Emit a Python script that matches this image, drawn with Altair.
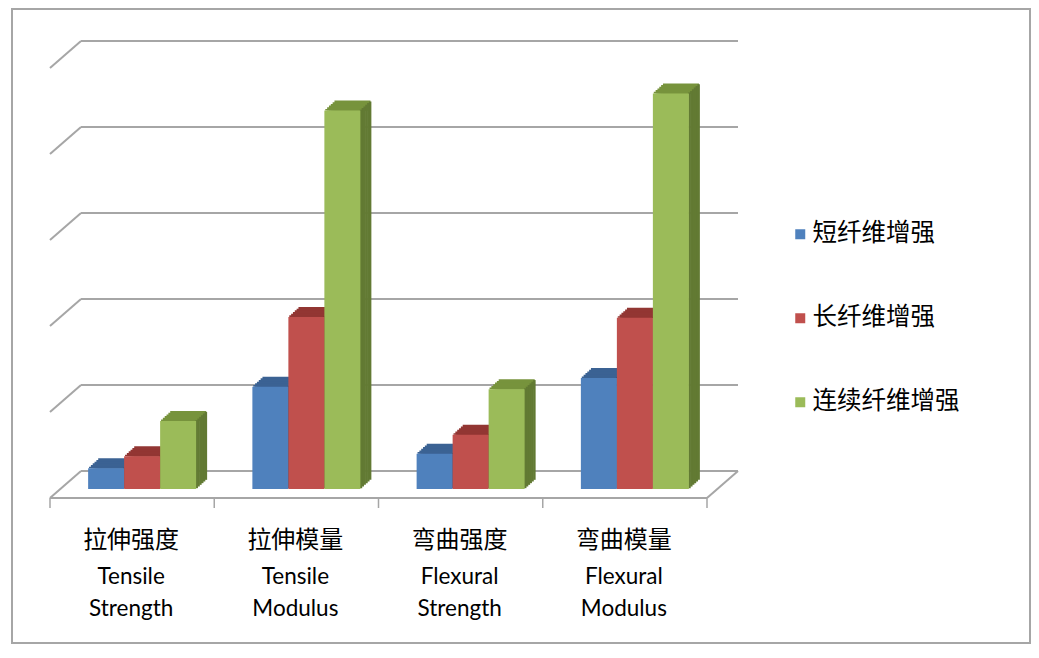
import altair as alt
import pandas as pd

# ---------------- data ----------------
categories_cn = ["拉伸强度", "拉伸模量", "弯曲强度", "弯曲模量"]
categories_en = ["Tensile\nStrength", "Tensile\nModulus", "Flexural\nStrength", "Flexural\nModulus"]
series_names = ["短纤维增强", "长纤维增强", "连续纤维增强"]
short_fiber = [0.24, 1.19, 0.41, 1.29]
long_fiber = [0.38, 2.00, 0.63, 1.99]
cont_fiber = [0.79, 4.40, 1.16, 4.60]
grid_values = [0, 1, 2, 3, 4, 5]

# ---------------- styles ----------------
front_colors = ["#4F81BD", "#C0504D", "#9BBB59"]
top_colors = ["#3B6293", "#923633", "#77933C"]
side_colors = ["#2E4C73", "#7A2B29", "#627A33"]
GRID = "#A6A6A6"
CJK = "Noto Sans CJK SC"
LATIN = "Lato"

rows = []
for i, c in enumerate(categories_cn):
    for s, vals in zip(series_names, [short_fiber, long_fiber, cont_fiber]):
        rows.append({"cat": c, "series": s, "value": vals[i]})
bars = pd.DataFrame(rows)
grid_df = pd.DataFrame({"v": grid_values})
labels_df = pd.DataFrame({"cat": categories_cn, "en": categories_en})
one = pd.DataFrame({"v": [0]})

W, H = 657, 430
band = W / len(categories_cn)
bw = 36.0                     # bar front width (px)
DX, DY = 11.0, 10.0           # 3-D depth of bars
N = 6
sx, sy = DX / N, DY / N

x_scale = alt.Scale(domain=categories_cn, paddingInner=0, paddingOuter=0)
x_enc = alt.X("cat:N", scale=x_scale, axis=None)
y_scale = alt.Scale(domain=[0, 5], nice=False, zero=True)
y_val = alt.Y("value:Q", scale=y_scale, axis=None)
y_v = alt.Y("v:Q", scale=y_scale, axis=None)

layers = []

# outer frame
layers.append(alt.Chart(one).mark_rect(fill="white", fillOpacity=0, stroke="#A6A6A6", strokeWidth=2).encode(
    x=alt.value(-48), x2=alt.value(970), y=alt.value(-50), y2=alt.value(584)))

back_off = -18
front_off = 9
# back wall gridlines
layers.append(alt.Chart(grid_df).mark_rule(color=GRID, strokeWidth=2, yOffset=back_off).encode(
    x=alt.value(21), x2=alt.value(21 + W), y=y_v))
# side wall slants
layers.append(alt.Chart(grid_df).mark_rule(color=GRID, strokeWidth=2, yOffset=front_off, y2Offset=back_off).encode(
    x=alt.value(-10), x2=alt.value(21), y=y_v, y2="v:Q"))
# floor front edge and right slant
layers.append(alt.Chart(one).mark_rule(color=GRID, strokeWidth=2, yOffset=front_off).encode(
    x=alt.value(-10), x2=alt.value(W - 10), y=y_v))
layers.append(alt.Chart(one).mark_rule(color=GRID, strokeWidth=2, yOffset=front_off, y2Offset=back_off).encode(
    x=alt.value(W - 10), x2=alt.value(W + 21), y=y_v, y2="v:Q"))
# category ticks
layers.append(alt.Chart(labels_df).mark_rule(color=GRID, strokeWidth=1.5, xOffset=-10).encode(
    x=alt.X("cat:N", scale=x_scale, axis=None, bandPosition=0),
    y=alt.value(H + front_off), y2=alt.value(H + front_off + 10)))
layers.append(alt.Chart(one).mark_rule(color=GRID, strokeWidth=1.5).encode(
    x=alt.value(W - 10), y=alt.value(H + front_off), y2=alt.value(H + front_off + 10)))

legend = alt.Legend(orient="none", legendX=728, legendY=163, title=None,
                    symbolType="square", symbolSize=100, symbolStrokeWidth=0,
                    labelFont=CJK, labelFontSize=24.5, labelColor="#000000",
                    rowPadding=59, labelOffset=0, padding=0)
color_enc = alt.Color("series:N", scale=alt.Scale(domain=series_names, range=front_colors), legend=legend)

# 3-D bars, one series at a time (top faces, side faces, then front faces)
fronts = []
for si, s in enumerate(series_names):
    shift = (si - (len(series_names) - 1) / 2) * bw
    base = alt.Chart(bars).transform_filter(alt.datum.series == s).transform_calculate(zero="0")
    for k in reversed(range(N)):
        layers.append(base.mark_bar(width=bw, xOffset=shift + (k + 0.5) * sx, color=top_colors[si],
                                    yOffset=-(k + 1) * sy, y2Offset=0).encode(
            x=x_enc, y=y_val, y2=alt.Y2("value:Q")))
    for k in reversed(range(N)):
        layers.append(base.mark_bar(width=sx + 0.6, xOffset=shift + bw / 2 + (k + 0.5) * sx - 0.3,
                                    color=side_colors[si],
                                    yOffset=-(k + 0.5) * sy, y2Offset=-(k + 0.5) * sy).encode(
            x=x_enc, y=y_val, y2=alt.Y2("zero:Q")))
    fronts.append(base.mark_bar(width=bw, xOffset=shift).encode(
        x=x_enc, y=y_val, y2=alt.Y2("zero:Q"), color=color_enc))
layers.extend(fronts)

# category labels
layers.append(alt.Chart(labels_df).mark_text(font=CJK, fontSize=24, xOffset=-11, baseline="middle",
                                             color="#000000").encode(
    x=x_enc, y=alt.value(482), text="cat:N"))
layers.append(alt.Chart(labels_df).mark_text(font=LATIN, fontSize=22.5, xOffset=-11, baseline="alphabetic",
                                             lineBreak="\n", lineHeight=32, color="#000000").encode(
    x=x_enc, y=alt.value(525), text="en:N"))

chart = alt.layer(*layers).properties(
    width=W, height=H, autosize="none", background="white",
    padding={"left": 52, "top": 51, "right": 314, "bottom": 155},
).configure_view(stroke=None)

chart.save("out.html", embed_options={"renderer": "svg", "actions": False})
